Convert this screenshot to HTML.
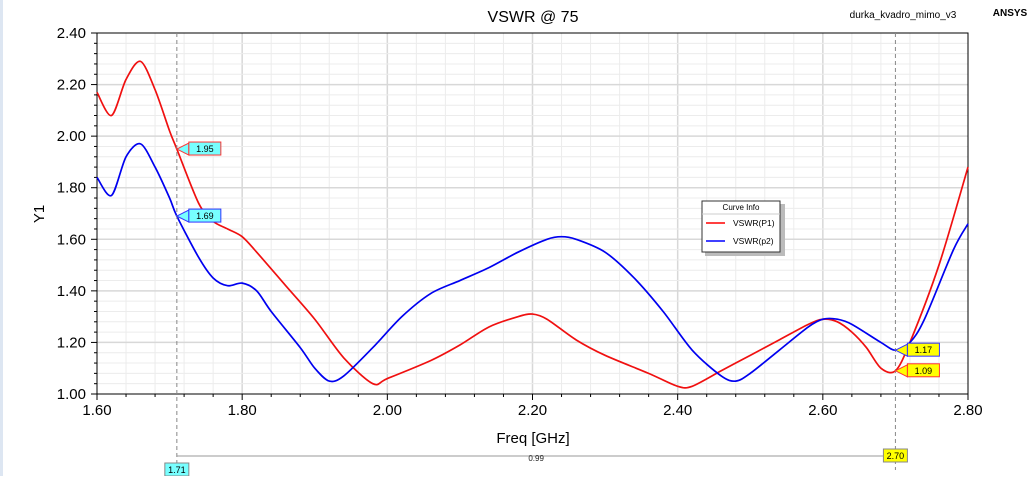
<!DOCTYPE html>
<html><head><meta charset="utf-8"><style>
body{margin:0;background:#fff;font-family:"Liberation Sans",sans-serif;}
svg text{font-family:"Liberation Sans",sans-serif;}
</style></head><body>
<svg width="1028" height="476" id="c">
<rect x="0" y="0" width="3" height="476" fill="#dde6f2"/>
<text x="533" y="22" font-size="16" text-anchor="middle">VSWR @ 75</text>
<text x="903" y="18" font-size="10" text-anchor="middle">durka_kvadro_mimo_v3</text>
<text x="1010" y="16" font-size="10" font-weight="bold" text-anchor="middle">ANSYS</text>
<text transform="translate(44,214) rotate(-90)" font-size="15" text-anchor="middle">Y1</text>
<text x="533" y="443" font-size="15" text-anchor="middle">Freq [GHz]</text>
<g id="grid"></g><g id="axes"></g><g id="series"></g><g id="marks"></g>
<g>
<rect x="705" y="204" width="80" height="52" fill="#bbb"/>
<rect x="702" y="201" width="78" height="51" fill="#fff" stroke="#333"/>
<line x1="702" y1="214" x2="780" y2="214" stroke="#ccc"/>
<text x="741" y="210" font-size="8" text-anchor="middle">Curve Info</text>
<line x1="706" y1="223" x2="725" y2="223" stroke="red" stroke-width="1.5"/>
<text x="733" y="226" font-size="8.5">VSWR(P1)</text>
<line x1="706" y1="241" x2="725" y2="241" stroke="blue" stroke-width="1.5"/>
<text x="733" y="244" font-size="8.5">VSWR(p2)</text>
</g>
</svg>
<script>
const freqP1=[1.60,1.62,1.64,1.66,1.68,1.70,1.71,1.74,1.76,1.78,1.80,1.82,1.86,1.90,1.94,1.98,2.00,2.06,2.10,2.14,2.18,2.20,2.22,2.26,2.30,2.36,2.40,2.42,2.46,2.50,2.54,2.58,2.60,2.62,2.64,2.66,2.68,2.70,2.72,2.76,2.80];
const vswrP1=[2.17,2.08,2.22,2.29,2.18,2.02,1.95,1.74,1.67,1.64,1.61,1.55,1.42,1.29,1.14,1.04,1.06,1.13,1.19,1.26,1.30,1.31,1.29,1.21,1.15,1.08,1.03,1.03,1.09,1.15,1.21,1.27,1.29,1.28,1.24,1.18,1.10,1.09,1.20,1.50,1.88];
const freqP2=[1.60,1.62,1.64,1.66,1.68,1.70,1.71,1.74,1.76,1.78,1.80,1.82,1.84,1.88,1.90,1.92,1.94,1.98,2.02,2.06,2.10,2.14,2.18,2.22,2.24,2.26,2.30,2.34,2.38,2.42,2.46,2.48,2.50,2.54,2.58,2.60,2.62,2.64,2.68,2.70,2.72,2.74,2.78,2.80];
const vswrP2=[1.84,1.77,1.92,1.97,1.88,1.76,1.69,1.53,1.45,1.42,1.43,1.40,1.32,1.18,1.10,1.05,1.07,1.18,1.30,1.39,1.44,1.49,1.55,1.60,1.61,1.60,1.55,1.45,1.32,1.17,1.07,1.05,1.08,1.17,1.26,1.29,1.29,1.27,1.20,1.17,1.20,1.29,1.56,1.66];
const xTicks=["1.60","1.80","2.00","2.20","2.40","2.60","2.80"];
const yTicks=["1.00","1.20","1.40","1.60","1.80","2.00","2.20","2.40"];
const X0=97,X1=968,Y0=394,Y1=33;
const sx=f=>X0+(f-1.6)/1.2*(X1-X0), sy=v=>Y0-(v-1.0)/1.4*(Y0-Y1);
const NS="http://www.w3.org/2000/svg";
function mk(p,t,a){const e=document.createElementNS(NS,t);for(const k in a)e.setAttribute(k,a[k]);p.appendChild(e);return e;}
const grid=document.getElementById('grid'),axes=document.getElementById('axes');
mk(grid,'rect',{x:X0,y:Y1,width:X1-X0,height:Y0-Y1,fill:'#fff'});
for(let i=1;i<30;i++){const f=1.6+i*0.04;const x=sx(f);const g=mk(grid,'line',{x1:x,y1:Y1,x2:x,y2:Y0,stroke:i%5==0?'#d8d8d8':'#ececec','stroke-width':i%5==0?1.5:1});

}
for(let i=1;i<35;i++){const v=1+i*0.04;const y=sy(v);const g=mk(grid,'line',{x1:X0,y1:y,x2:X1,y2:y,stroke:i%5==0?'#d8d8d8':'#ececec','stroke-width':i%5==0?1.5:1});

}
mk(axes,'rect',{x:X0,y:Y1,width:X1-X0,height:Y0-Y1,fill:'none',stroke:'#000','stroke-width':1});
xTicks.forEach((t,i)=>{const x=sx(parseFloat(t));mk(axes,'line',{x1:x,y1:Y0,x2:x,y2:Y0+6,stroke:'#000'});
const e=mk(axes,'text',{x:x,y:Y0+21,'font-size':15,'text-anchor':'middle'});e.textContent=t;

});
for(let i=1;i<30;i++){if(i%5){const x=sx(1.6+i*0.04);mk(axes,'line',{x1:x,y1:Y0,x2:x,y2:Y0+3,stroke:'#000'});}}
yTicks.forEach(t=>{const y=sy(parseFloat(t));mk(axes,'line',{x1:X0-6,y1:y,x2:X0,y2:y,stroke:'#000'});
const e=mk(axes,'text',{x:X0-11,y:y+5,'font-size':15,'text-anchor':'end'});e.textContent=t;

});
for(let i=1;i<35;i++){if(i%5){const y=sy(1+i*0.04);mk(axes,'line',{x1:X0-3,y1:y,x2:X0,y2:y,stroke:'#000'});}}
const ser=document.getElementById('series');
function smooth(pts){let d='M'+pts[0][0]+','+pts[0][1];
for(let i=0;i<pts.length-1;i++){const p0=pts[Math.max(i-1,0)],p1=pts[i],p2=pts[i+1],p3=pts[Math.min(i+2,pts.length-1)];const k=0.15;
d+=` C${p1[0]+(p2[0]-p0[0])*k},${p1[1]+(p2[1]-p0[1])*k} ${p2[0]-(p3[0]-p1[0])*k},${p2[1]-(p3[1]-p1[1])*k} ${p2[0]},${p2[1]}`;}
return d;}
function line(fx,vy,col,name){const p=mk(ser,'path',{d:smooth(fx.map((f,i)=>[sx(f),sy(vy[i])])),fill:'none',stroke:col,'stroke-width':1.7,'stroke-linejoin':'round'});

}
line(freqP1,vswrP1,'#f01010','series-vswr-p1');
line(freqP2,vswrP2,'#0000f0','series-vswr-p2');
const m=document.getElementById('marks');
const mA=1.71,mB=2.70;
[mA,mB].forEach(f=>{const l=mk(m,'line',{x1:sx(f),y1:Y1,x2:sx(f),y2:470,stroke:'#888','stroke-dasharray':'4,3'});

});
mk(m,'line',{x1:sx(mA),y1:456,x2:sx(mB),y2:456,stroke:'#999'});
const dt=mk(m,'text',{x:(sx(mA)+sx(mB))/2,y:461,'font-size':8,'text-anchor':'middle',fill:'#222'});dt.textContent=(mB-mA).toFixed(2);
function box(x,y,w,fill,stroke,txt,name){const g=mk(m,'g',{});


mk(g,'rect',{x:x,y:y,width:w,height:13,fill:fill,stroke:stroke});const t=mk(g,'text',{x:x+w/2,y:y+10,'font-size':9,'text-anchor':'middle'});t.textContent=txt;}
function flag(f,v,fill,stroke,name){const x=sx(f),y=sy(v);const g=mk(m,'g',{});


mk(g,'polygon',{points:`${x},${y} ${x+12},${y-6} ${x+12},${y-6} ${x+12},${y+6}`,fill:fill,stroke:stroke});
mk(g,'rect',{x:x+12,y:y-7,width:32,height:13,fill:fill,stroke:stroke});
const t=mk(g,'text',{x:x+28,y:y+3,'font-size':9,'text-anchor':'middle'});t.textContent=v.toFixed(2);}
flag(mA,vswrP1[freqP1.indexOf(mA)],'#7ff','#f33','marker-1-p1');
flag(mA,vswrP2[freqP2.indexOf(mA)],'#7ff','#33f','marker-1-p2');
flag(mB,vswrP2[freqP2.indexOf(mB)],'#ff0','#33f','marker-2-p2');
flag(mB,vswrP1[freqP1.indexOf(mB)],'#ff0','#f33','marker-2-p1');
box(sx(mA)-12,463,24,'#7ff','#888',mA.toFixed(2),'marker-1-x-label');
box(sx(mB)-12,449,24,'#ff0','#888',mB.toFixed(2),'marker-2-x-label');
</script>
</body></html>
